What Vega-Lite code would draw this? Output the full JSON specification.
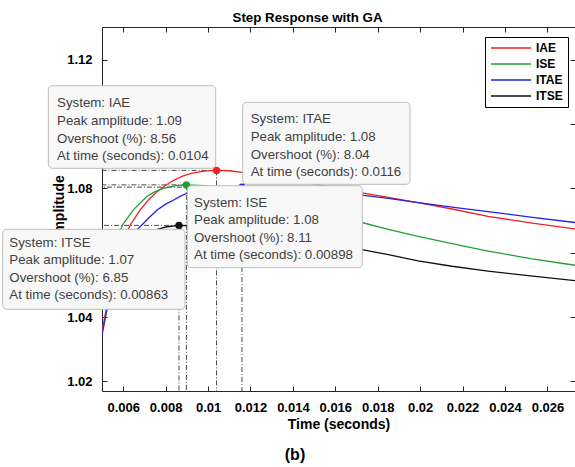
{
  "$schema": "https://vega.github.io/schema/vega-lite/v6.json",
  "width": 473,
  "height": 364,
  "autosize": {"type": "none"},
  "padding": {"left": 102, "top": 27, "right": 0, "bottom": 76},
  "background": "white",
  "title": {"text": "(b)", "orient": "bottom", "anchor": "middle", "dx": -43.5, "offset": 16, "fontSize": 16, "fontWeight": "bold", "font": "Liberation Sans", "color": "#000"},
  "datasets": {
    "curves": [
      {"system": "IAE", "t": 0.005, "amp": 1.0355}, {"system": "IAE", "t": 0.0052, "amp": 1.0425}, {"system": "IAE", "t": 0.0054, "amp": 1.0488}, {"system": "IAE", "t": 0.0056, "amp": 1.0545}, {"system": "IAE", "t": 0.0058, "amp": 1.0595}, {"system": "IAE", "t": 0.006, "amp": 1.0635}, {"system": "IAE", "t": 0.0062, "amp": 1.0667}, {"system": "IAE", "t": 0.00634, "amp": 1.0687}, {"system": "IAE", "t": 0.0068, "amp": 1.0733}, {"system": "IAE", "t": 0.0072, "amp": 1.0765}, {"system": "IAE", "t": 0.0076, "amp": 1.079}, {"system": "IAE", "t": 0.008, "amp": 1.081}, {"system": "IAE", "t": 0.0084, "amp": 1.0826}, {"system": "IAE", "t": 0.0088, "amp": 1.0838}, {"system": "IAE", "t": 0.0092, "amp": 1.0847}, {"system": "IAE", "t": 0.0098, "amp": 1.0854}, {"system": "IAE", "t": 0.0104, "amp": 1.0856}, {"system": "IAE", "t": 0.011, "amp": 1.0855}, {"system": "IAE", "t": 0.0115, "amp": 1.0851}, {"system": "IAE", "t": 0.0125, "amp": 1.0843}, {"system": "IAE", "t": 0.0135, "amp": 1.0832}, {"system": "IAE", "t": 0.0145, "amp": 1.082}, {"system": "IAE", "t": 0.0155, "amp": 1.0807}, {"system": "IAE", "t": 0.01625, "amp": 1.0797}, {"system": "IAE", "t": 0.01725, "amp": 1.0786}, {"system": "IAE", "t": 0.0185, "amp": 1.0772}, {"system": "IAE", "t": 0.0199, "amp": 1.0756}, {"system": "IAE", "t": 0.0215, "amp": 1.0736}, {"system": "IAE", "t": 0.0232, "amp": 1.0713}, {"system": "IAE", "t": 0.0252, "amp": 1.0693}, {"system": "IAE", "t": 0.0273, "amp": 1.0674},
      {"system": "ISE", "t": 0.005, "amp": 1.05}, {"system": "ISE", "t": 0.0052, "amp": 1.055}, {"system": "ISE", "t": 0.0054, "amp": 1.0593}, {"system": "ISE", "t": 0.0056, "amp": 1.063}, {"system": "ISE", "t": 0.0058, "amp": 1.0661}, {"system": "ISE", "t": 0.006, "amp": 1.069}, {"system": "ISE", "t": 0.0065, "amp": 1.0735}, {"system": "ISE", "t": 0.0071, "amp": 1.0774}, {"system": "ISE", "t": 0.0075, "amp": 1.079}, {"system": "ISE", "t": 0.0079, "amp": 1.08}, {"system": "ISE", "t": 0.0085, "amp": 1.0809}, {"system": "ISE", "t": 0.00898, "amp": 1.0811}, {"system": "ISE", "t": 0.0098, "amp": 1.0809}, {"system": "ISE", "t": 0.0105, "amp": 1.0802}, {"system": "ISE", "t": 0.0115, "amp": 1.0789}, {"system": "ISE", "t": 0.0125, "amp": 1.0772}, {"system": "ISE", "t": 0.0135, "amp": 1.0754}, {"system": "ISE", "t": 0.0145, "amp": 1.0737}, {"system": "ISE", "t": 0.0155, "amp": 1.0721}, {"system": "ISE", "t": 0.01625, "amp": 1.0709}, {"system": "ISE", "t": 0.01725, "amp": 1.0694}, {"system": "ISE", "t": 0.0185, "amp": 1.0673}, {"system": "ISE", "t": 0.0199, "amp": 1.0651}, {"system": "ISE", "t": 0.0215, "amp": 1.0628}, {"system": "ISE", "t": 0.0232, "amp": 1.0605}, {"system": "ISE", "t": 0.0252, "amp": 1.0582}, {"system": "ISE", "t": 0.0273, "amp": 1.0561},
      {"system": "ITAE", "t": 0.005, "amp": 1.0343}, {"system": "ITAE", "t": 0.0052, "amp": 1.0412}, {"system": "ITAE", "t": 0.0054, "amp": 1.0472}, {"system": "ITAE", "t": 0.0056, "amp": 1.0522}, {"system": "ITAE", "t": 0.0058, "amp": 1.0563}, {"system": "ITAE", "t": 0.006, "amp": 1.0597}, {"system": "ITAE", "t": 0.0063, "amp": 1.0639}, {"system": "ITAE", "t": 0.0066, "amp": 1.0668}, {"system": "ITAE", "t": 0.00689, "amp": 1.0687}, {"system": "ITAE", "t": 0.0072, "amp": 1.0708}, {"system": "ITAE", "t": 0.0076, "amp": 1.0733}, {"system": "ITAE", "t": 0.008, "amp": 1.0751}, {"system": "ITAE", "t": 0.00838, "amp": 1.0764}, {"system": "ITAE", "t": 0.0087, "amp": 1.0776}, {"system": "ITAE", "t": 0.00901, "amp": 1.0785}, {"system": "ITAE", "t": 0.0095, "amp": 1.0794}, {"system": "ITAE", "t": 0.01, "amp": 1.0799}, {"system": "ITAE", "t": 0.0108, "amp": 1.0803}, {"system": "ITAE", "t": 0.0116, "amp": 1.0804}, {"system": "ITAE", "t": 0.0125, "amp": 1.0803}, {"system": "ITAE", "t": 0.0135, "amp": 1.08}, {"system": "ITAE", "t": 0.0145, "amp": 1.0795}, {"system": "ITAE", "t": 0.0155, "amp": 1.079}, {"system": "ITAE", "t": 0.01625, "amp": 1.0785}, {"system": "ITAE", "t": 0.01725, "amp": 1.0779}, {"system": "ITAE", "t": 0.0185, "amp": 1.0769}, {"system": "ITAE", "t": 0.0199, "amp": 1.0756}, {"system": "ITAE", "t": 0.0215, "amp": 1.0742}, {"system": "ITAE", "t": 0.0232, "amp": 1.0728}, {"system": "ITAE", "t": 0.0252, "amp": 1.0711}, {"system": "ITAE", "t": 0.0273, "amp": 1.0694},
      {"system": "ITSE", "t": 0.005, "amp": 1.046}, {"system": "ITSE", "t": 0.0055, "amp": 1.0535}, {"system": "ITSE", "t": 0.006, "amp": 1.0588}, {"system": "ITSE", "t": 0.0065, "amp": 1.0627}, {"system": "ITSE", "t": 0.007, "amp": 1.0653}, {"system": "ITSE", "t": 0.0075, "amp": 1.067}, {"system": "ITSE", "t": 0.008, "amp": 1.068}, {"system": "ITSE", "t": 0.00863, "amp": 1.0685}, {"system": "ITSE", "t": 0.0095, "amp": 1.0684}, {"system": "ITSE", "t": 0.0105, "amp": 1.0681}, {"system": "ITSE", "t": 0.0115, "amp": 1.0676}, {"system": "ITSE", "t": 0.0125, "amp": 1.0668}, {"system": "ITSE", "t": 0.0135, "amp": 1.0658}, {"system": "ITSE", "t": 0.0145, "amp": 1.0646}, {"system": "ITSE", "t": 0.0155, "amp": 1.0633}, {"system": "ITSE", "t": 0.01625, "amp": 1.0623}, {"system": "ITSE", "t": 0.01725, "amp": 1.061}, {"system": "ITSE", "t": 0.0185, "amp": 1.0594}, {"system": "ITSE", "t": 0.0199, "amp": 1.0575}, {"system": "ITSE", "t": 0.0215, "amp": 1.0558}, {"system": "ITSE", "t": 0.0232, "amp": 1.0543}, {"system": "ITSE", "t": 0.0252, "amp": 1.0528}, {"system": "ITSE", "t": 0.0273, "amp": 1.0513}
    ],
    "peaks": [
      {"system": "IAE", "t": 0.0104, "peak": 1.0856, "tip": "System: IAE\nPeak amplitude: 1.09\nOvershoot (%): 8.56\nAt time (seconds): 0.0104"},
      {"system": "ISE", "t": 0.00898, "peak": 1.0811, "tip": "System: ISE\nPeak amplitude: 1.08\nOvershoot (%): 8.11\nAt time (seconds): 0.00898"},
      {"system": "ITAE", "t": 0.0116, "peak": 1.0804, "tip": "System: ITAE\nPeak amplitude: 1.08\nOvershoot (%): 8.04\nAt time (seconds): 0.0116"},
      {"system": "ITSE", "t": 0.00863, "peak": 1.0685, "tip": "System: ITSE\nPeak amplitude: 1.07\nOvershoot (%): 6.85\nAt time (seconds): 0.00863"}
    ]
  },
  "layer": [
    {
      "data": {"name": "peaks"},
      "mark": {"type": "rule", "color": "#333333", "strokeWidth": 0.9, "strokeDash": [5, 2, 1, 2]},
      "encoding": {
        "x": {"field": "t", "type": "quantitative", "scale": {"domain": [0.005, 0.0273], "nice": false, "zero": false}, "axis": null},
        "x2": {"datum": 0.005},
        "y": {"field": "peak", "type": "quantitative", "scale": {"domain": [1.017, 1.1302], "nice": false, "zero": false},
              "axis": {"orient": "right", "labels": false, "title": null, "tickSize": -5, "domain": false, "values": [1.02, 1.04, 1.06, 1.08, 1.1, 1.12]}}
      }
    },
    {
      "data": {"name": "peaks"},
      "mark": {"type": "rule", "color": "#333333", "strokeWidth": 0.9, "strokeDash": [5, 2, 1, 2]},
      "encoding": {
        "x": {"field": "t", "type": "quantitative", "scale": {"domain": [0.005, 0.0273], "nice": false, "zero": false},
              "axis": {"orient": "top", "labels": false, "tickSize": -5, "domain": true, "values": [0.006, 0.008, 0.01, 0.012, 0.014, 0.016, 0.018, 0.02, 0.022, 0.024, 0.026],
                       "title": "Step Response with GA", "titleX": 205, "titleY": -6, "titleBaseline": "alphabetic", "titleAlign": "center", "titleFontSize": 13.3}},
        "y": {"field": "peak", "type": "quantitative", "scale": {"domain": [1.017, 1.1302], "nice": false, "zero": false}, "axis": null},
        "y2": {"datum": 1.017}
      }
    },
    {
      "data": {"name": "curves"},
      "mark": {"type": "line", "strokeWidth": 1.3, "clip": true},
      "encoding": {
        "x": {"field": "t", "type": "quantitative", "scale": {"domain": [0.005, 0.0273], "nice": false, "zero": false},
              "axis": {"orient": "bottom", "values": [0.006, 0.008, 0.01, 0.012, 0.014, 0.016, 0.018, 0.02, 0.022, 0.024, 0.026], "format": "~g",
                       "title": "Time (seconds)", "tickSize": -5, "labelPadding": 25.5, "labelBaseline": "alphabetic", "titleY": 37, "titleBaseline": "alphabetic"}},
        "y": {"field": "amp", "type": "quantitative", "scale": {"domain": [1.017, 1.1302], "nice": false, "zero": false},
              "axis": {"orient": "left", "values": [1.02, 1.04, 1.06, 1.08, 1.1, 1.12], "format": "~g", "labelExpr": "datum.value == 1.06 || datum.value == 1.1 ? '' : datum.label",
                       "title": "Amplitude", "tickSize": -5, "labelPadding": 15,
                       "titleX": -39, "titleY": 182, "titleBaseline": "alphabetic", "titleAngle": 270, "titleAlign": "center"}},
        "color": {"field": "system", "type": "nominal",
                  "scale": {"domain": ["IAE", "ISE", "ITAE", "ITSE"], "range": ["#ee2222", "#22a033", "#2222e0", "#111111"]},
                  "legend": {"orient": "none", "legendX": 383, "legendY": 10, "title": null, "strokeColor": "#000", "fillColor": "#fff", "padding": 5,
                             "symbolType": "M-1,0L7,0", "symbolSize": 100, "symbolStrokeWidth": 1.5, "labelFont": "Liberation Sans", "labelFontWeight": "bold",
                             "labelFontSize": 12, "labelColor": "#000", "labelOffset": 34, "rowPadding": 4}}
      }
    },
    {
      "data": {"name": "peaks"},
      "mark": {"type": "point", "filled": true, "size": 55, "opacity": 1},
      "encoding": {
        "x": {"field": "t", "type": "quantitative", "axis": null},
        "y": {"field": "peak", "type": "quantitative", "axis": null},
        "color": {"field": "system", "type": "nominal", "legend": null}
      }
    },
    {
      "data": {"name": "peaks"},
      "transform": [{"filter": {"field": "system", "equal": "IAE"}}],
      "mark": {"type": "rect", "fill": "#f8f8f8", "stroke": "#bdbdbd", "strokeWidth": 1, "cornerRadius": 4, "xOffset": -168.2, "x2Offset": -0.8, "yOffset": -84.7, "y2Offset": -2.1},
      "encoding": {"x": {"field": "t", "type": "quantitative", "axis": null}, "x2": {"field": "t"}, "y": {"field": "peak", "type": "quantitative", "axis": null}, "y2": {"field": "peak"}}
    },
    {
      "data": {"name": "peaks"},
      "transform": [{"filter": {"field": "system", "equal": "IAE"}}],
      "mark": {"type": "text", "align": "left", "baseline": "alphabetic", "dx": -159.5, "dy": -63.1, "font": "Liberation Sans", "fontSize": 13.3, "lineHeight": 17.6, "lineBreak": "\n", "color": "#404040"},
      "encoding": {"x": {"field": "t", "type": "quantitative", "axis": null}, "y": {"field": "peak", "type": "quantitative", "axis": null}, "text": {"field": "tip", "type": "nominal"}}
    },
    {
      "data": {"name": "peaks"},
      "transform": [{"filter": {"field": "system", "equal": "ITAE"}}],
      "mark": {"type": "rect", "fill": "#f8f8f8", "stroke": "#bdbdbd", "strokeWidth": 1, "cornerRadius": 4, "xOffset": 0.7, "x2Offset": 168, "yOffset": -84.8, "y2Offset": -2.8},
      "encoding": {"x": {"field": "t", "type": "quantitative", "axis": null}, "x2": {"field": "t"}, "y": {"field": "peak", "type": "quantitative", "axis": null}, "y2": {"field": "peak"}}
    },
    {
      "data": {"name": "peaks"},
      "transform": [{"filter": {"field": "system", "equal": "ITAE"}}],
      "mark": {"type": "text", "align": "left", "baseline": "alphabetic", "dx": 8.7, "dy": -63.8, "font": "Liberation Sans", "fontSize": 13.3, "lineHeight": 17.6, "lineBreak": "\n", "color": "#404040"},
      "encoding": {"x": {"field": "t", "type": "quantitative", "axis": null}, "y": {"field": "peak", "type": "quantitative", "axis": null}, "text": {"field": "tip", "type": "nominal"}}
    },
    {
      "data": {"name": "peaks"},
      "transform": [{"filter": {"field": "system", "equal": "ISE"}}],
      "mark": {"type": "rect", "fill": "#f8f8f8", "stroke": "#bdbdbd", "strokeWidth": 1, "cornerRadius": 4, "xOffset": 0.9, "x2Offset": 175.9, "yOffset": 0.8, "y2Offset": 82.8},
      "encoding": {"x": {"field": "t", "type": "quantitative", "axis": null}, "x2": {"field": "t"}, "y": {"field": "peak", "type": "quantitative", "axis": null}, "y2": {"field": "peak"}}
    },
    {
      "data": {"name": "peaks"},
      "transform": [{"filter": {"field": "system", "equal": "ISE"}}],
      "mark": {"type": "text", "align": "left", "baseline": "alphabetic", "dx": 7.6, "dy": 21.8, "font": "Liberation Sans", "fontSize": 13.3, "lineHeight": 17.6, "lineBreak": "\n", "color": "#404040"},
      "encoding": {"x": {"field": "t", "type": "quantitative", "axis": null}, "y": {"field": "peak", "type": "quantitative", "axis": null}, "text": {"field": "tip", "type": "nominal"}}
    },
    {
      "data": {"name": "peaks"},
      "transform": [{"filter": {"field": "system", "equal": "ITSE"}}],
      "mark": {"type": "rect", "fill": "#f8f8f8", "stroke": "#bdbdbd", "strokeWidth": 1, "cornerRadius": 4, "xOffset": -176.3, "x2Offset": 6, "yOffset": 3.9, "y2Offset": 83.9},
      "encoding": {"x": {"field": "t", "type": "quantitative", "axis": null}, "x2": {"field": "t"}, "y": {"field": "peak", "type": "quantitative", "axis": null}, "y2": {"field": "peak"}}
    },
    {
      "data": {"name": "peaks"},
      "transform": [{"filter": {"field": "system", "equal": "ITSE"}}],
      "mark": {"type": "text", "align": "left", "baseline": "alphabetic", "dx": -169.7, "dy": 21.3, "font": "Liberation Sans", "fontSize": 13.3, "lineHeight": 17.6, "lineBreak": "\n", "color": "#404040"},
      "encoding": {"x": {"field": "t", "type": "quantitative", "axis": null}, "y": {"field": "peak", "type": "quantitative", "axis": null}, "text": {"field": "tip", "type": "nominal"}}
    }
  ],
  "config": {
    "view": {"stroke": null},
    "font": "Liberation Sans",
    "axis": {"domainColor": "#262626", "tickColor": "#262626", "domainWidth": 1, "tickWidth": 1, "labelFont": "Liberation Sans", "labelFontSize": 13, "labelFontWeight": "bold", "labelColor": "#000",
             "titleFont": "Liberation Sans", "titleFontSize": 14, "titleFontWeight": "bold", "titleColor": "#000", "grid": false, "labelFlush": false, "labelOverlap": false, "zindex": 0}
  }
}
